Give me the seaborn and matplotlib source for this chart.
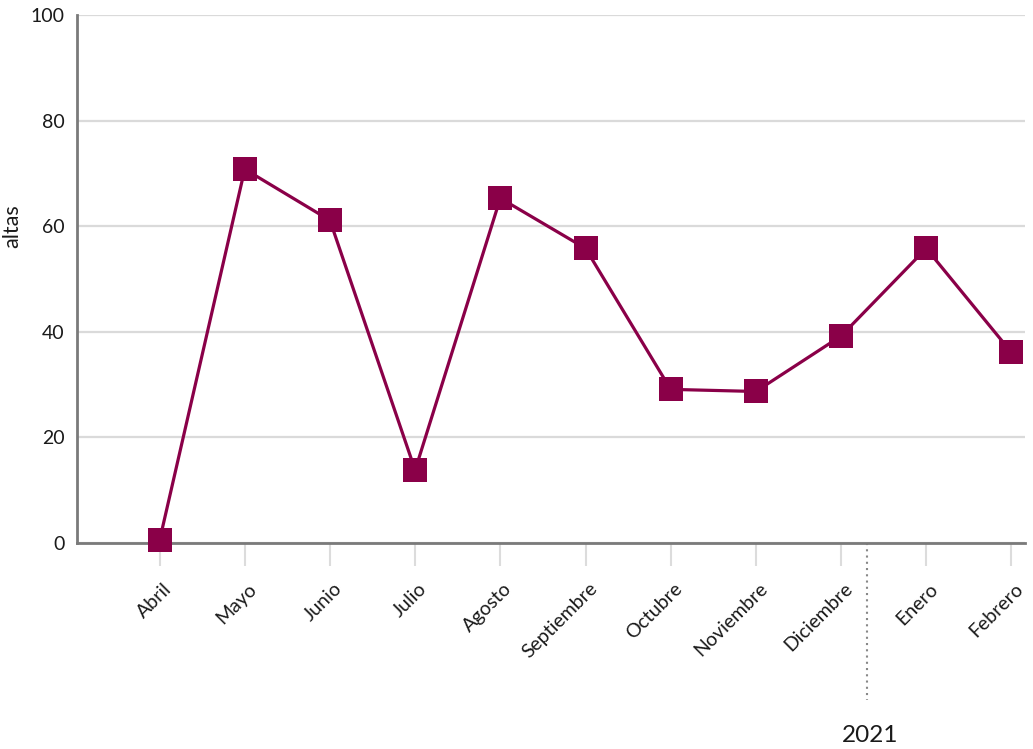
import matplotlib
matplotlib.use("Agg")
import matplotlib.pyplot as plt
import matplotlib.transforms as mtransforms
import seaborn as sns
import pandas as pd

# Monthly "altas" counts
meses = ["Abril", "Mayo", "Junio", "Julio", "Agosto", "Septiembre",
         "Octubre", "Noviembre", "Diciembre", "Enero", "Febrero"]
altas = [0.5, 70.8, 61.1, 13.8, 65.3, 55.8, 29.1, 28.7, 39.2, 55.8, 36.1]
y_ticks = [0, 20, 40, 60, 80, 100]
year_label = "2021"

df = pd.DataFrame({"mes": meses, "altas": altas})

sns.set_theme(style="white")
plt.rcParams["font.family"] = ["Lato", "DejaVu Sans"]

fig = plt.figure(figsize=(10.33, 7.49), dpi=100)
ax = fig.add_axes([0.0745, 0.275, 0.9178, 0.705])

line_color = "#8a0048"
sns.lineplot(data=df, x="mes", y="altas", ax=ax, sort=False,
             color=line_color, linewidth=2.3, marker="s", markersize=16.8,
             markeredgewidth=0, zorder=5, clip_on=False)

ax.set_ylim(0, 100)
ax.set_xlim(-0.97, 10.16)
ax.set_yticks(y_ticks)
ax.set_yticklabels([str(v) for v in y_ticks], fontsize=14, color="#1a1a1a")
ax.yaxis.grid(True, color="#dadada", linewidth=1.6)
ax.set_axisbelow(True)

ax.tick_params(axis="x", length=16.5, width=1.5, color="#dcdcdc", pad=8,
               direction="out", bottom=True)
ax.tick_params(axis="y", length=0, pad=9)

ax.set_xticks(range(len(meses)))
ax.set_xticklabels(meses, fontsize=14, color="#1a1a1a", rotation=45,
                   ha="right", va="center", rotation_mode="anchor")
# nudge the slanted month labels to sit just right of their ticks
shift = mtransforms.ScaledTranslation(9 / 100, -9 / 100, fig.dpi_scale_trans)
for lbl in ax.get_xticklabels():
    lbl.set_transform(lbl.get_transform() + shift)

for side in ["top", "right"]:
    ax.spines[side].set_visible(False)
for side in ["left", "bottom"]:
    ax.spines[side].set_color("#7a7a7a")
    ax.spines[side].set_linewidth(2)

ax.set_xlabel("")
ax.set_ylabel("altas", fontsize=15.5, color="#1a1a1a")
ax.yaxis.set_label_coords(-0.058, 0.6)

# Year separator between December and January
trans = mtransforms.blended_transform_factory(ax.transData, ax.transAxes)
ax.plot([8.31, 8.31], [0, -0.297], transform=trans, clip_on=False,
        color="#888888", linestyle=(0, (1, 2)), linewidth=1.5)
ax.text(8.34, -0.365, year_label, transform=trans, ha="center", va="center",
        fontsize=17.5, color="#1a1a1a")

fig.savefig("out.png", dpi=100)
